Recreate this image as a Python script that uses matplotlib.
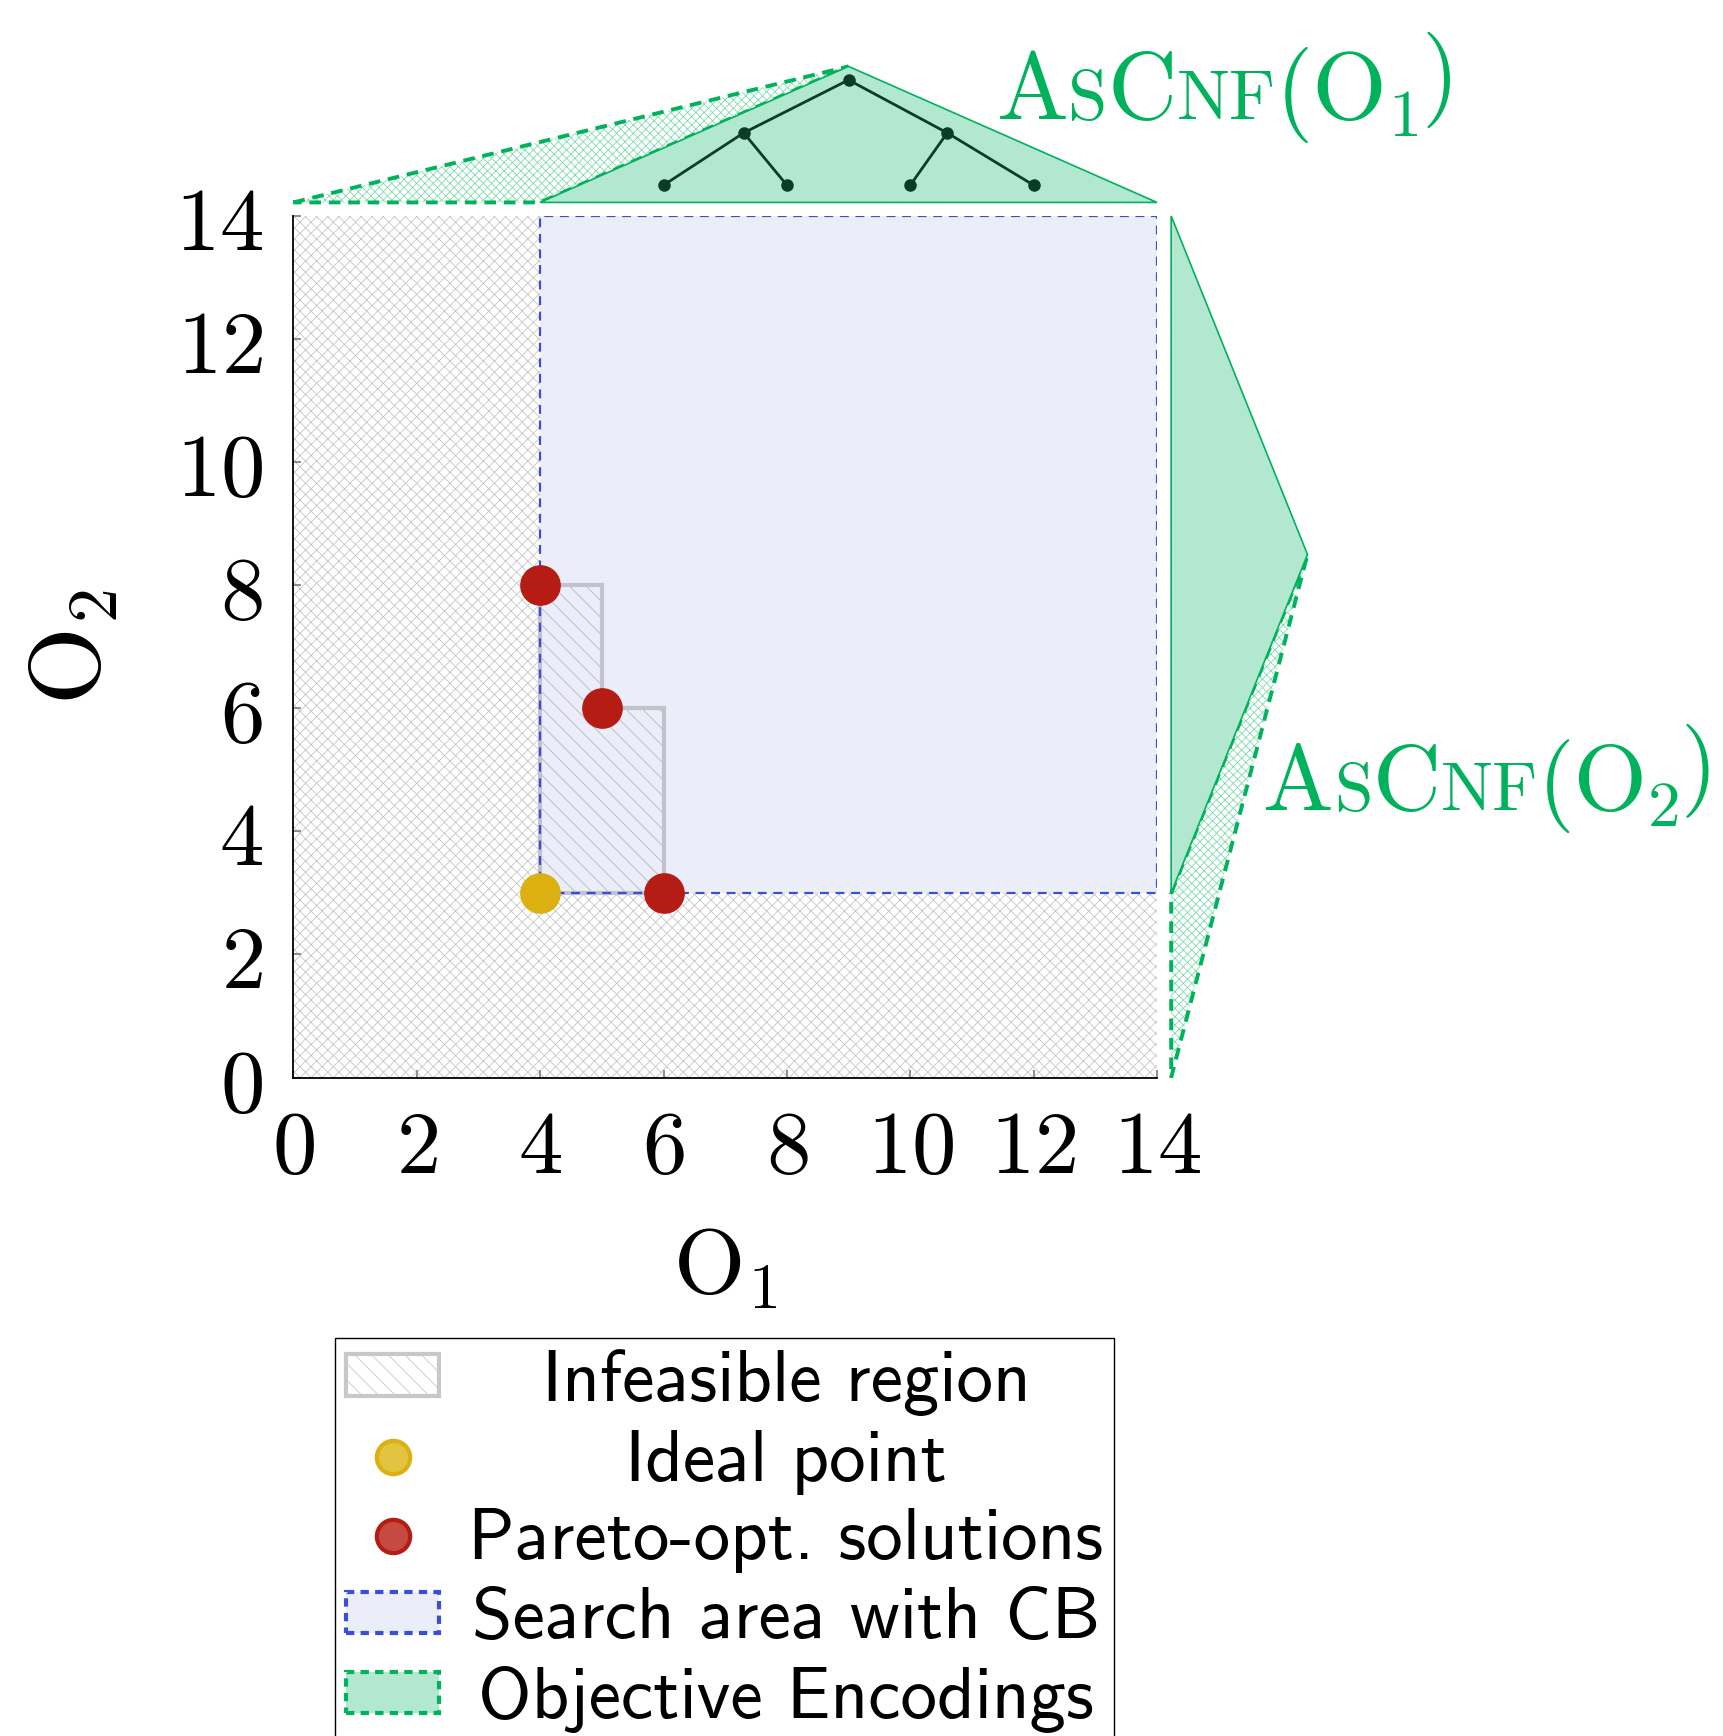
import matplotlib
matplotlib.use('Agg')
import matplotlib.pyplot as plt
from matplotlib.patches import Polygon, Rectangle, Patch
from matplotlib.lines import Line2D
from matplotlib.transforms import Bbox

plt.rcParams['mathtext.fontset'] = 'cm'
plt.rcParams['hatch.linewidth'] = 0.6

# data
ticks = [0, 2, 4, 6, 8, 10, 12, 14]
ideal_point = (4, 3)
pareto_o1 = [4, 5, 6]
pareto_o2 = [8, 6, 3]
search_lo = (4, 3)
search_hi = (14, 14)
# staircase dominated by pareto points (infeasible for CB)
stair_x = [4, 4, 5, 5, 6, 6]
stair_y = [3, 8, 8, 6, 6, 3]
# objective encoding shapes (drawn outside axes)
enc1_x = [4, 9, 14]
enc1_y = [14.22, 16.43, 14.22]
enc1_hatch_x = [0, 9, 4]
enc1_hatch_y = [14.22, 16.43, 14.22]
enc2_x = [14.23, 16.44, 14.23]
enc2_y = [14, 8.5, 3]
enc2_hatch_x = [14.23, 16.44, 14.23]
enc2_hatch_y = [3, 8.5, 0]
# totalizer tree above O1
tree_nodes = {'r': (9, 16.21), 'a': (7.3, 15.35), 'b': (10.6, 15.35),
              'l1': (6, 14.5), 'l2': (8, 14.5), 'l3': (10, 14.5), 'l4': (12, 14.5)}
tree_edges = [('r', 'a'), ('r', 'b'), ('a', 'l1'), ('a', 'l2'), ('b', 'l3'), ('b', 'l4')]
legend_labels = ['Infeasible region', 'Ideal point', 'Pareto-opt. solutions',
                 'Search area with CB', 'Objective Encodings']

GREEN = '#00b25c'
GREEN_FILL = '#b2e8cf'
GREEN_HATCH = '#80dcb0'
BLUE = '#3b4fd6'
LAVENDER = '#ebedf8'
GRAY = '#c0c2cc'
YELLOW = '#dcb010'
RED = '#b41c14'

fig = plt.figure(figsize=(17.24, 17.36), dpi=100)
ax = fig.add_axes([0.1702, 0.3793, 0.5009, 0.4963])
ax.set_xlim(0, 14)
ax.set_ylim(0, 14)

# infeasible crosshatch everywhere
ax.add_patch(Rectangle((0, 0), 14, 14, facecolor='white', edgecolor='#c6c6c6',
                       hatch='xxx', lw=0, zorder=1))
# search area
w = search_hi[0] - search_lo[0]
h = search_hi[1] - search_lo[1]
ax.add_patch(Rectangle(search_lo, w, h, facecolor=LAVENDER, edgecolor='none', zorder=2))
# staircase
stair = list(zip(stair_x, stair_y))
ax.add_patch(Polygon(stair, closed=True, facecolor='none', edgecolor='#b4b6c0',
                     hatch='\\\\', lw=0, zorder=3))
ax.add_patch(Polygon(stair, closed=True, facecolor='none', edgecolor=GRAY,
                     lw=3, zorder=3))
ax.add_patch(Rectangle(search_lo, w, h, facecolor='none', edgecolor=BLUE,
                       ls=(0, (4, 3)), lw=1.6, zorder=4))

ax.scatter(pareto_o1, pareto_o2, s=800, color=RED, zorder=6, clip_on=False)
ax.scatter([ideal_point[0]], [ideal_point[1]], s=800, color=YELLOW, zorder=6, clip_on=False)

# objective encodings
ax.add_patch(Polygon(list(zip(enc1_hatch_x, enc1_hatch_y)), closed=True, facecolor='none',
                     edgecolor=GREEN_HATCH, hatch='xxxx', lw=0, clip_on=False))
ax.add_patch(Polygon(list(zip(enc1_hatch_x, enc1_hatch_y)), closed=True, facecolor='none',
                     edgecolor=GREEN, ls=(0, (3, 2)), lw=2.8, clip_on=False))
ax.add_patch(Polygon(list(zip(enc1_x, enc1_y)), closed=True, facecolor=GREEN_FILL,
                     edgecolor=GREEN, lw=1.2, clip_on=False))
ax.add_patch(Polygon(list(zip(enc2_hatch_x, enc2_hatch_y)), closed=True, facecolor='none',
                     edgecolor=GREEN_HATCH, hatch='xxxx', lw=0, clip_on=False))
ax.add_patch(Polygon(list(zip(enc2_hatch_x, enc2_hatch_y)), closed=True, facecolor='none',
                     edgecolor=GREEN, ls=(0, (3, 2)), lw=2.8, clip_on=False))
ax.add_patch(Polygon(list(zip(enc2_x, enc2_y)), closed=True, facecolor=GREEN_FILL,
                     edgecolor=GREEN, lw=1.2, clip_on=False))

for a, b in tree_edges:
    ax.plot([tree_nodes[a][0], tree_nodes[b][0]], [tree_nodes[a][1], tree_nodes[b][1]],
            color='#0b3d25', lw=2, clip_on=False, zorder=7)
ax.plot([p[0] for p in tree_nodes.values()], [p[1] for p in tree_nodes.values()], 'o',
        color='#0b3d25', ms=8, ls='none', clip_on=False, zorder=8)


def smallcaps(x, y, pieces):
    prev = None
    for s, size, dy in pieces:
        if prev is None:
            t = ax.text(x, y, s, fontsize=size, fontfamily='cmr10', color=GREEN,
                        va='baseline', ha='left', clip_on=False)
        else:
            t = ax.annotate(s, xy=(1, y), xycoords=(prev, 'data'), xytext=(0, dy),
                            textcoords='offset points', fontsize=size, fontfamily='cmr10',
                            color=GREEN, va='baseline', ha='left', annotation_clip=False)
        prev = t


def ascnf(x, y, sub, big=69, small=51):
    smallcaps(x, y, [('A', big, 0), ('S', small, 0), ('C', big, 0), ('NF', small, 0),
                     ('(O', big, 0), (sub, small - 3, -12), (')', big, 12)])


ascnf(11.4, 15.57, '1')
ascnf(15.72, 4.35, '2', 68, 50)

# axes styling
for s in ['top', 'right']:
    ax.spines[s].set_visible(False)
for s in ['left', 'bottom']:
    ax.spines[s].set_linestyle((0, (3, 1)))
    ax.spines[s].set_linewidth(1.3)
    ax.spines[s].set_zorder(5)
ax.set_xticks(ticks)
ax.set_yticks(ticks)
ax.set_xticklabels([f'${v}$' for v in ticks])
ax.set_yticklabels([f'${v}$' for v in ticks])
ax.tick_params(direction='in', length=6, width=1.5, color='#909090', labelsize=64)
ax.tick_params(axis='x', pad=20)
ax.tick_params(axis='y', pad=22)
ax.set_xlabel(r'$\mathrm{O}_1$', fontsize=66, labelpad=22)
ax.set_ylabel(r'$\mathrm{O}_2$', fontsize=72, labelpad=38)

handles = [
    Patch(facecolor='white', edgecolor='#c8c8c8', hatch='\\\\', lw=3),
    Line2D([], [], marker='o', ls='none', ms=24, mfc='#e2c440', mec=YELLOW, mew=3),
    Line2D([], [], marker='o', ls='none', ms=24, mfc='#c44a42', mec=RED, mew=3),
    Patch(facecolor=LAVENDER, edgecolor=BLUE, ls=(0, (2, 1.5)), lw=3),
    Patch(facecolor=GREEN_FILL, edgecolor=GREEN, ls=(0, (2, 1.5)), lw=3),
]
leg = fig.legend(handles, legend_labels, loc='upper left', bbox_to_anchor=(0.1943, 0.2293),
                 prop={'family': 'cmss10', 'size': 52.5}, fancybox=False, framealpha=1,
                 edgecolor='black', handlelength=1.28, handleheight=0.5, labelspacing=0.19,
                 borderpad=0.15, handletextpad=0.4, borderaxespad=0)
leg.get_frame().set_linewidth(1)

# center labels inside legend column
fig.canvas.draw()
r = fig.canvas.get_renderer()
wmax = max(t.get_window_extent(r).width for t in leg.get_texts())
for col in leg._legend_handle_box.get_children():
    for row in col.get_children():
        ta = row.get_children()[1]
        ta._text.set_ha('center')
        orig = ta.get_bbox

        def gb(renderer, orig=orig):
            bb = orig(renderer)
            return Bbox.from_bounds(-wmax / 2, bb.y0, wmax, bb.height)
        ta.get_bbox = gb

fig.savefig('out.png', dpi=100)
